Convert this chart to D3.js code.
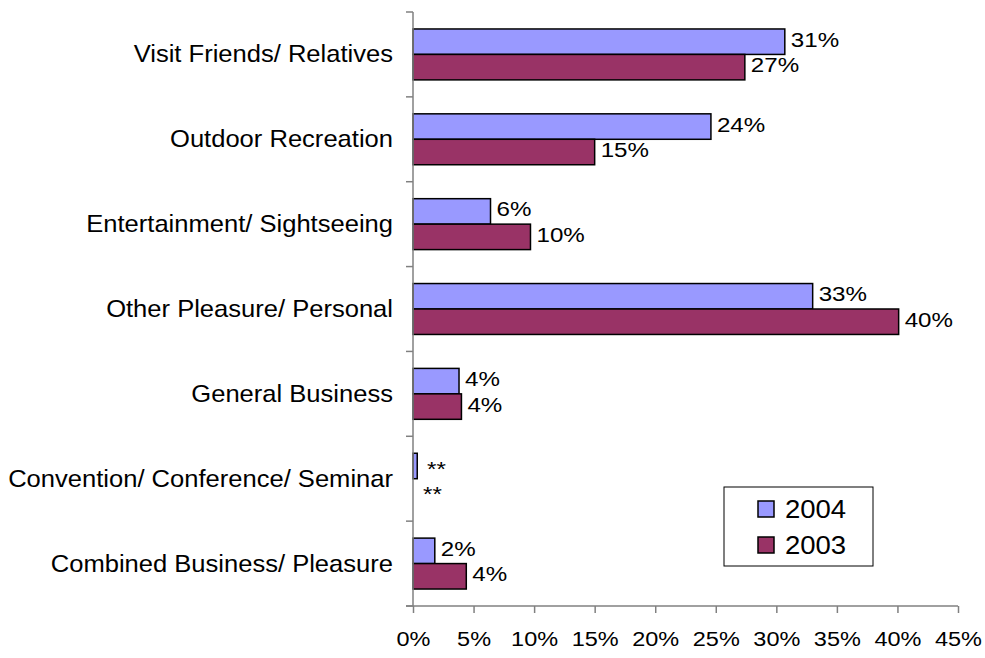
<!DOCTYPE html>
<html>
<head>
<meta charset="utf-8">
<script src="https://cdn.jsdelivr.net/npm/d3@7"></script>
<style>
  body { margin: 0; background: #fff; }
  svg { display: block; font-family: "Liberation Sans", Arial, sans-serif; }
</style>
</head>
<body>
<svg id="chart" width="985" height="658"></svg>
<script>
// data
var categories = [
  "Visit Friends/ Relatives",
  "Outdoor Recreation",
  "Entertainment/ Sightseeing",
  "Other Pleasure/ Personal",
  "General Business",
  "Convention/ Conference/ Seminar",
  "Combined Business/ Pleasure"
]
var values2004 = [30.7, 24.6, 6.4, 33.0, 3.8, 0.35, 1.8]
var values2003 = [27.4, 15.0, 9.7, 40.1, 4.0, 0, 4.4]
var labels2004 = ["31%", "24%", "6%", "33%", "4%", "**", "2%"]
var labels2003 = ["27%", "15%", "10%", "40%", "4%", "**", "4%"]
var xTicks = [0, 5, 10, 15, 20, 25, 30, 35, 40, 45]
var seriesNames = ["2004", "2003"]
var seriesColors = ["#9999ff", "#993366"]

var margin = { top: 12, left: 413, right: 27, bottom: 52 }
var width = 985 - margin.left - margin.right
var height = 658 - margin.top - margin.bottom

var svg = d3.select("#chart")
var g = svg.append("g").attr("transform", "translate(" + margin.left + "," + margin.top + ")")

var x = d3.scaleLinear().domain([0, 45]).range([0, width])
var y = d3.scaleBand().domain(categories).range([0, height])
var bw = y.bandwidth()
var barH = bw * 0.3
var barOff = bw * 0.2

// bars, one group per category
var rows = categories.map(function (c, i) {
  return { name: c, vals: [values2004[i], values2003[i]], labels: [labels2004[i], labels2003[i]] }
})

var rowG = g.selectAll(".row").data(rows).enter().append("g")
  .attr("transform", function (d) { return "translate(0," + y(d.name) + ")" })

rowG.each(function (d) {
  var el = d3.select(this)
  d.vals.forEach(function (v, s) {
    var top = barOff + s * barH
    if (v > 0) {
      el.append("rect")
        .attr("x", 0)
        .attr("y", top)
        .attr("width", x(v))
        .attr("height", barH)
        .attr("fill", seriesColors[s])
        .attr("stroke", "#000")
        .attr("stroke-width", 1.5)
    }
    var lx = d.labels[s] === "**" ? (s === 0 ? 14 : 10) : x(v) + 6
    var ly = top + barH / 2 + (d.labels[s] === "**" ? 10 : 5)
    el.append("text")
      .attr("transform", "translate(" + lx + "," + ly + ") scale(1.15,1)")
      .attr("font-size", 21)
      .attr("fill", "#000")
      .text(d.labels[s])
  })
})

// category labels
g.selectAll(".cat").data(categories).enter().append("text")
  .attr("transform", function (d) { return "translate(-20," + (y(d) + bw / 2 + 8) + ") scale(1.065,1)" })
  .attr("text-anchor", "end")
  .attr("font-size", 24)
  .attr("fill", "#000")
  .text(function (d) { return d })

// y axis: line with ticks at band edges
var yEdges = categories.map(function (c) { return y(c) }).concat([height])
g.append("line")
  .attr("x1", 0).attr("x2", 0).attr("y1", 0).attr("y2", height)
  .attr("stroke", "#808080").attr("stroke-width", 1.5)
g.selectAll(".ytick").data(yEdges).enter().append("line")
  .attr("x1", -7).attr("x2", 0)
  .attr("y1", function (d) { return d }).attr("y2", function (d) { return d })
  .attr("stroke", "#808080").attr("stroke-width", 1.5)

// x axis
var xAxis = d3.axisBottom(x).tickValues(xTicks).tickSize(7).tickSizeOuter(0)
  .tickFormat(function (d) { return d + "%" })
var xg = g.append("g").attr("transform", "translate(0," + height + ")").call(xAxis)
xg.select(".domain").remove()
xg.append("line").attr("x1", -7).attr("x2", width).attr("y1", 0).attr("y2", 0)
  .attr("stroke", "#808080").attr("stroke-width", 1.5)
xg.selectAll(".tick line").attr("stroke", "#808080").attr("stroke-width", 1.5)
xg.selectAll(".tick text")
  .attr("font-size", 21)
  .attr("font-family", "Liberation Sans, Arial, sans-serif")
  .attr("fill", "#000")
  .attr("y", 0).attr("dy", 0)
  .attr("transform", "translate(0,40) scale(1.12,1)")

// legend
var legend = svg.append("g").attr("transform", "translate(724,487)")
legend.append("rect")
  .attr("width", 149).attr("height", 79)
  .attr("fill", "#fff").attr("stroke", "#000").attr("stroke-width", 1)
var items = legend.selectAll(".item").data(seriesNames).enter().append("g")
  .attr("transform", function (d, i) { return "translate(34," + (14 + i * 36) + ")" })
items.append("rect")
  .attr("width", 16).attr("height", 16)
  .attr("fill", function (d, i) { return seriesColors[i] })
  .attr("stroke", "#000").attr("stroke-width", 1.5)
items.append("text")
  .attr("transform", "translate(27,17) scale(1.1,1)")
  .attr("font-size", 25)
  .attr("fill", "#000")
  .text(function (d) { return d })
</script>
</body>
</html>
